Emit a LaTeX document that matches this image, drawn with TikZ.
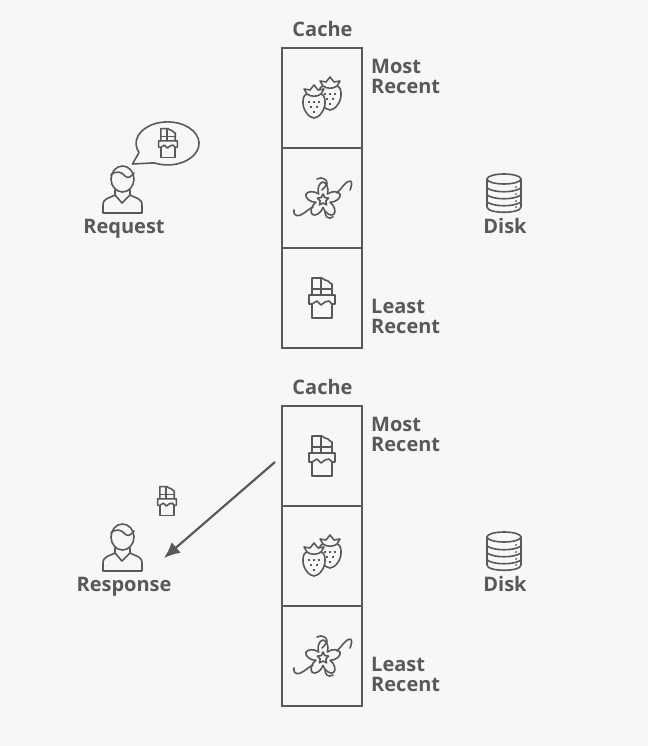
\documentclass[tikz,border=0pt]{standalone}
\usepackage{fontspec}
\setmainfont{Open Sans}
\usetikzlibrary{positioning}
\usetikzlibrary{arrows.meta}

\definecolor{inkgray}{HTML}{595959}
\definecolor{pagegray}{HTML}{F7F7F7}

\tikzset{
	icon/.style={draw=inkgray,line width=1.6pt,line join=round,line cap=round},
	cell/.style={draw=inkgray,line width=2pt,minimum width=80pt,minimum height=100pt,inner sep=0pt,outer sep=0pt},
	caption/.style={text=inkgray,font=\fontsize{20}{20}\selectfont\bfseries,inner sep=0pt,align=left},
	pics/chocolate/.style={code={
		\draw[icon] (-10,-3) -- (-10,-20) -- (0,-20) -- (3,-18) -- (6,-17) -- (8,-15) -- (10,-14) -- (10,-3);
		\draw[icon] (-1,-20) -- (-1,-3);
		\draw[icon] (-10,-9) -- (10,-9);
		\draw[icon] (-13,-3) -- (13,-3) -- (13,6) -- (10,6) -- (7,3) -- (3,4) -- (-1,7) -- (-5,3) -- (-10,6) -- (-13,6) -- cycle;
		\draw[icon] (-10,6) -- (-10,20) -- (10,20) -- (10,6);
	}},
	pics/berry/.style={code={
		\draw[icon,fill=pagegray] (-7,-10) .. controls (-11,-9) and (-11,-4) .. (-11,-1)
			.. controls (-11,6) and (-5,14) .. (0,14)
			.. controls (5,14) and (11,6) .. (11,-1)
			.. controls (11,-4) and (11,-9) .. (7,-10)
			.. controls (3,-13) and (-3,-13) .. (-7,-10) -- cycle;
		\draw[icon,fill=pagegray] (-7,-10) -- (-10,-15) -- (-4,-14) -- (0,-19) -- (4,-14) -- (10,-15) -- (7,-10)
			.. controls (3,-7) and (-3,-7) .. (-7,-10) -- cycle;
		\foreach \sx/\sy in {-5/-2,0/-2,5/-2,-3/3,3/3,0/8}
			\draw[draw=inkgray,line width=1.6pt] (\sx,\sy-1) -- (\sx,\sy+1);
	}},
	pics/vanilla/.style={code={
		\draw[icon] (-29,10) .. controls (-30,17) and (-24,17) .. (-19,13) .. controls (-16,11) and (-14,9) .. (-10,7);
		\draw[icon] (14,-7) .. controls (19,-12) and (23,-19) .. (27,-19) .. controls (30,-19) and (28,-12) .. (27,-10);
		\draw[icon] (-6,-21) .. controls (-1,-24) and (5,-20) .. (4,-16) .. controls (3,-13) and (0,-12) .. (-1,-10);
		\draw[icon] (2,12) .. controls (2,16) and (5,20) .. (10,17);
		\foreach \ang in {270,342,54,126,198}
			\draw[icon] (\ang-36:7.5) .. controls (\ang-28:13) and (\ang-12:18) .. (\ang:18) .. controls (\ang+12:18) and (\ang+28:13) .. (\ang+36:7.5);
		\draw[icon] (270:6) -- (306:3) -- (342:6) -- (18:3) -- (54:6) -- (90:3) -- (126:6) -- (162:3) -- (198:6) -- (234:3) -- cycle;
	}},
	pics/person/.style={code={
		\draw[icon] (0.5,-11) ellipse[x radius=11.5,y radius=13];
		\draw[icon] (-11,-15) .. controls (-6,-20) and (0,-18) .. (3,-14) .. controls (6,-11) and (9,-13) .. (12,-17);
		\draw[icon] (-7,0) -- (-7,5) .. controls (-12,8) and (-19,8) .. (-19,15) -- (-19,23) -- (20,23) -- (20,15) .. controls (20,8) and (13,8) .. (8,5) -- (8,0);
		\draw[icon] (-7,5) -- (0,13) -- (8,5);
	}},
	pics/disk/.style={code={
		\draw[icon] (0,-14) ellipse[x radius=17,y radius=5];
		\draw[icon] (-17,-14) -- (-17,14) .. controls (-17,21) and (17,21) .. (17,14) -- (17,-14);
		\foreach \ly in {-5,2,9}
			\draw[icon] (-17,\ly) .. controls (-10,\ly+5) and (10,\ly+5) .. (17,\ly);
		\foreach \ly in {-6,1,8,14}
			\fill[inkgray] (12,\ly) circle (1);
	}},
}

\begin{document}
\begin{tikzpicture}[x=1pt,y=-1pt]

	\fill[pagegray] (0,0) rectangle (648,746);
	\useasboundingbox (0,0) rectangle (648,746);

	% top stack
	\node[cell] (top1) at (322,98) {};
	\node[cell,below=0pt of top1] (top2) {};
	\node[cell,below=0pt of top2] (top3) {};
	\node[caption,above=11pt of top1,xshift=0.5pt] (topcache) {Cache};
	\node[caption,right=9pt of top1.north east,anchor=north west,yshift=-11pt] (topmost) {Most\\Recent};
	\node[caption,right=9pt of top3.north east,anchor=north west,yshift=-51pt] (topleast) {Least\\Recent};
	\pic at (330,96) {berry};
	\pic at (314,104) {berry};
	\pic at (323,200) {vanilla};
	\pic at (322,298) {chocolate};

	% top request
	\pic at (122,190) {person};
	\node[caption] (request) at (124,229) {Request};
	\draw[icon,fill=pagegray] (132.5,164) -- (139,152.5) arc[start angle=155,end angle=475,x radius=31.5,y radius=21.5] -- cycle;
	\pic[scale=0.72] at (168,143) {chocolate};
	\pic at (504,193) {disk};
	\node[caption] (topdisk) at (505,226) {Disk};

	% bottom stack
	\node[cell] (low1) at (322,456) {};
	\node[cell,below=0pt of low1] (low2) {};
	\node[cell,below=0pt of low2] (low3) {};
	\node[caption,above=11pt of low1,xshift=0.5pt] (lowcache) {Cache};
	\node[caption,right=9pt of low1.north east,anchor=north west,yshift=-11pt] (lowmost) {Most\\Recent};
	\node[caption,right=9pt of low3.north east,anchor=north west,yshift=-51pt] (lowleast) {Least\\Recent};
	\pic at (322,456) {chocolate};
	\pic at (330,554) {berry};
	\pic at (314,562) {berry};
	\pic at (323,658) {vanilla};

	% bottom response
	\pic at (122,548) {person};
	\node[caption] (response) at (124,587) {Response};
	\pic[scale=0.72] at (167,501) {chocolate};
	\pic at (504,551) {disk};
	\node[caption] (lowdisk) at (505,584) {Disk};

	\coordinate (arrowstart) at (275,462);
	\coordinate (arrowend) at (164,558);
	\draw[draw=inkgray,line width=2.2pt,-{Latex[length=16pt,width=14pt]}] (arrowstart) -- (arrowend);

\end{tikzpicture}
\end{document}
